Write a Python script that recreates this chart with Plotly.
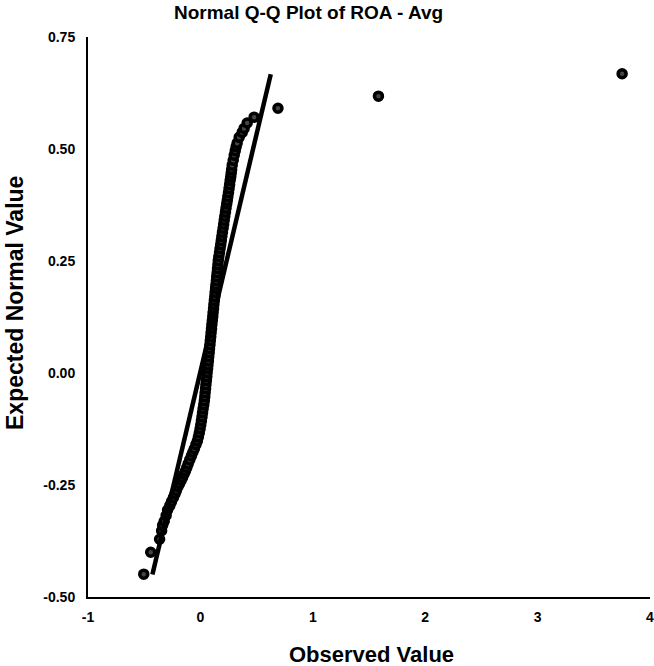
import plotly.graph_objects as go

observed = [
    -0.504, -0.442, -0.363, -0.345, -0.336, -0.322, -0.305, -0.292, -0.272, -0.257,
    -0.240, -0.226, -0.214, -0.200, -0.186, -0.172, -0.159, -0.146, -0.133, -0.121,
    -0.109, -0.095, -0.080, -0.067, -0.054, -0.040, -0.027, -0.018, -0.010, -0.003,
    0.003, 0.009, 0.014, 0.019, 0.024, 0.030, 0.035, 0.039, 0.042, 0.046,
    0.049, 0.053, 0.057, 0.060, 0.064, 0.067, 0.071, 0.074, 0.078, 0.081,
    0.085, 0.088, 0.092, 0.095, 0.099, 0.102, 0.106, 0.110, 0.113, 0.117,
    0.120, 0.124, 0.128, 0.131, 0.135, 0.138, 0.142, 0.145, 0.149, 0.152,
    0.156, 0.159, 0.164, 0.170, 0.175, 0.181, 0.186, 0.191, 0.196, 0.202,
    0.207, 0.212, 0.217, 0.223, 0.228, 0.234, 0.239, 0.244, 0.250, 0.255,
    0.260, 0.265, 0.270, 0.274, 0.278, 0.283, 0.292, 0.301, 0.310, 0.318,
    0.327, 0.345, 0.372, 0.389, 0.416, 0.478, 0.690, 1.584, 3.752,
]
expected = [
    -0.449, -0.400, -0.371, -0.352, -0.340, -0.331, -0.318, -0.306, -0.296, -0.287,
    -0.278, -0.270, -0.262, -0.254, -0.247, -0.240, -0.233, -0.226, -0.219, -0.211,
    -0.203, -0.194, -0.185, -0.177, -0.169, -0.160, -0.152, -0.143, -0.134, -0.125,
    -0.116, -0.107, -0.098, -0.089, -0.080, -0.071, -0.062, -0.053, -0.044, -0.035,
    -0.026, -0.017, -0.008, 0.001, 0.010, 0.018, 0.027, 0.036, 0.045, 0.054,
    0.063, 0.072, 0.081, 0.090, 0.099, 0.108, 0.117, 0.126, 0.135, 0.144,
    0.153, 0.162, 0.171, 0.180, 0.189, 0.197, 0.206, 0.215, 0.224, 0.233,
    0.242, 0.251, 0.260, 0.269, 0.278, 0.287, 0.296, 0.305, 0.314, 0.323,
    0.332, 0.341, 0.350, 0.359, 0.368, 0.377, 0.385, 0.394, 0.403, 0.412,
    0.421, 0.430, 0.438, 0.446, 0.454, 0.464, 0.475, 0.486, 0.496, 0.505,
    0.513, 0.526, 0.537, 0.546, 0.558, 0.571, 0.591, 0.618, 0.668,
]

# Reference line end points
line_x = [-0.427, 0.626]
line_y = [-0.450, 0.667]

x_ticks = [-1, 0, 1, 2, 3, 4]
y_ticks = [-0.50, -0.25, 0.00, 0.25, 0.50, 0.75]
y_tick_text = ["-0.50", "-0.25", "0.00", "0.25", "0.50", "0.75"]

FONT = "Liberation Sans, Arial, sans-serif"

# plot area at x 88..650, y 37..597 in the 654x666 window (body margin removed)
L, T = 88, 37
PW, PH = 562, 560
W, H = 654, 666

fig = go.Figure()
fig.add_trace(go.Scatter(
    x=observed, y=expected, mode="markers",
    marker=dict(size=8, color="#444444", line=dict(color="black", width=3.5)),
    showlegend=False, cliponaxis=False,
))
fig.add_trace(go.Scatter(
    x=line_x, y=line_y, mode="lines",
    line=dict(color="black", width=4.5),
    showlegend=False,
))

fig.update_layout(
    width=W, height=H,
    margin=dict(l=L, r=W - L - PW, t=T, b=H - T - PH, autoexpand=False),
    paper_bgcolor="white", plot_bgcolor="white",
    font=dict(family=FONT, color="black"),
    xaxis=dict(
        range=[-1, 4], tickvals=x_ticks, ticktext=[str(v) for v in x_ticks],
        showgrid=False, zeroline=False, showline=True, linecolor="black", linewidth=2,
        ticks="", ticklabelstandoff=6, ticklabeloverflow="allow", automargin=False,
        tickfont=dict(family=FONT, size=14, color="black", weight="bold"),
    ),
    yaxis=dict(
        range=[-0.5, 0.75], tickvals=y_ticks, ticktext=y_tick_text,
        showgrid=False, zeroline=False, showline=True, linecolor="black", linewidth=2,
        ticks="", ticklabelstandoff=8, ticklabeloverflow="allow", automargin=False,
        tickfont=dict(family=FONT, size=14, color="black", weight="bold"),
    ),
    annotations=[
        dict(text="<b>Normal Q-Q Plot of ROA - Avg</b>", xref="paper", yref="paper",
             x=(308 - L) / PW, y=1 + (T - 13) / PH, xanchor="center", yanchor="middle",
             showarrow=False, font=dict(family=FONT, size=19, color="black")),
        dict(text="<b>Observed Value</b>", xref="paper", yref="paper",
             x=(371 - L) / PW, y=-(654 - 597) / PH, xanchor="center", yanchor="middle",
             showarrow=False, font=dict(family=FONT, size=22, color="black")),
        dict(text="<b>Expected Normal Value</b>", xref="paper", yref="paper",
             x=-(L - 15) / PW, y=(597 - 303) / PH, xanchor="center", yanchor="middle",
             textangle=-90, showarrow=False, font=dict(family=FONT, size=23, color="black")),
    ],
)

fig.write_html("out.html", config={"displayModeBar": False},
               post_script="document.body.style.margin='0';")
